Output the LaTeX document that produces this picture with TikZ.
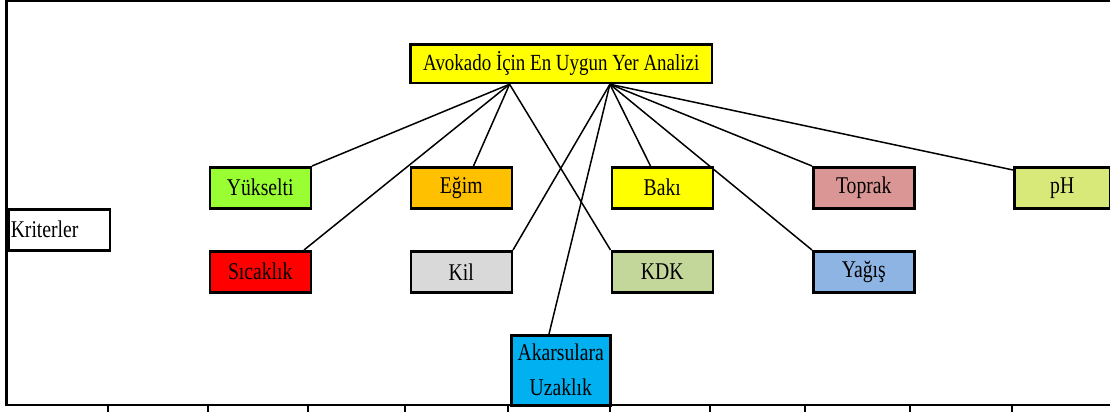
\documentclass[tikz,border=0pt]{standalone}
\usepackage{fontspec}
\setmainfont{Liberation Serif}[FakeStretch=0.82]
\usetikzlibrary{calc}
\definecolor{cyellow}{RGB}{255,255,0}
\definecolor{cgreen}{RGB}{153,255,51}
\definecolor{corange}{RGB}{255,192,0}
\definecolor{crose}{RGB}{218,150,148}
\definecolor{clime}{RGB}{216,233,122}
\definecolor{cred}{RGB}{255,0,0}
\definecolor{cgrey}{RGB}{217,217,217}
\definecolor{colive}{RGB}{196,215,155}
\definecolor{cblue}{RGB}{141,180,226}
\definecolor{ccyan}{RGB}{0,176,240}
\begin{document}
\begin{tikzpicture}[x=1pt,y=-1pt,
  box/.style={draw=black, line width=2.5pt, minimum width=101pt, minimum height=41pt,
    inner sep=0pt, anchor=north west, font=\fontsize{24}{27}\selectfont},
  titlebox/.style={draw=black, line width=2.5pt, minimum width=301.5pt, minimum height=38.5pt,
    inner sep=0pt, anchor=north west, fill=cyellow, font=\fontsize{23.1}{26}\selectfont},
  conn/.style={line width=1.5pt},
  frameline/.style={line width=2.5pt},
  tick/.style={line width=1.5pt}]
\useasboundingbox (0,0) rectangle (1110,412);
% frame
\draw[frameline] (1110,1) -- (6.5,1) -- (6.5,405) -- (1110,405);
\foreach \x in {108,208,308,405,508,610,710,805,910,1012}
  \draw[tick] (\x,405) -- (\x,412);
% nodes
\node[titlebox] (title) at (409.25,43.25) {Avokado İçin En Uygun Yer Analizi};
\node[box, fill=white, text width=97pt, align=left, inner xsep=2pt] (kri) at (7.5,208) {Kriterler};
\node[box, fill=cgreen] (yuk) at (208.5,166) {Yükselti};
\node[box, fill=corange] (egi) at (409.5,166) {Eğim};
\node[box, fill=cyellow] (bak) at (610.5,166) {Bakı};
\node[box, fill=crose] (top) at (812,166) {Toprak};
\node[box, fill=clime, minimum width=96pt] (ph) at (1013,166) {pH};
\node[box, fill=cred] (sic) at (208.5,250) {Sıcaklık};
\node[box, fill=cgrey] (kil) at (409.5,250) {Kil};
\node[box, fill=colive] (kdk) at (610.5,250) {KDK};
\node[box, fill=cblue] (yag) at (812,250) {Yağış};
\node[box, fill=ccyan, minimum width=99pt, minimum height=70pt, align=center,
  font=\fontsize{24}{35}\selectfont] (aka) at (510,334) {Akarsulara\\Uzaklık};
% hubs
\coordinate (hl) at ($(title.south west)!0.33!(title.south east)$);
\coordinate (hr) at ($(title.south west)!0.66!(title.south east)$);
% connectors
\draw[conn] (hl) -- (yuk.north east);
\draw[conn] (hl) -- ($(sic.north east)+(-8,0)$);
\draw[conn] (hl) -- ($(egi.north west)+(64,0)$);
\draw[conn] (hl) -- (kdk.north west);
\draw[conn] (hr) -- (kil.north east);
\draw[conn] (hr) -- ($(aka.north west)+(39,0)$);
\draw[conn] (hr) -- ($(bak.north west)+(40,0)$);
\draw[conn] (hr) -- (top.north west);
\draw[conn] (hr) -- (yag.north west);
\draw[conn] (hr) -- ($(ph.north west)+(0,4)$);
\end{tikzpicture}
\end{document}
